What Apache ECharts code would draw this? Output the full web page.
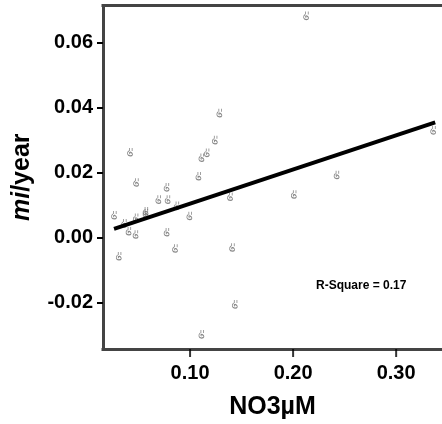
<!DOCTYPE html>
<html>
<head>
<meta charset="utf-8">
<script src="https://cdn.jsdelivr.net/npm/echarts@6/dist/echarts.min.js"></script>
<style>html,body{margin:0;padding:0;background:#fff}#c{width:442px;height:424px}</style>
</head>
<body>
<div id="c"></div>
<script>
// NO3 (µM) values of the observations
const no3Values = [0.0262, 0.0308, 0.0359, 0.0403, 0.0417, 0.0473, 0.0471, 0.0476, 0.0568, 0.0568,
  0.0692, 0.0772, 0.0782, 0.0772, 0.0854, 0.0869, 0.0993, 0.1081, 0.1110, 0.1162,
  0.1240, 0.1284, 0.1110, 0.1388, 0.1408, 0.1434, 0.2007, 0.2126, 0.2422, 0.3359];
// mi/year values of the observations
const rateValues = [0.0070, -0.0056, 0.0045, 0.0021, 0.0264, 0.0062, 0.0011, 0.0171, 0.0082, 0.0076,
  0.0118, 0.0156, 0.0118, 0.0018, -0.0032, 0.0099, 0.0068, 0.0190, 0.0247, 0.0262,
  0.0301, 0.0384, -0.0296, 0.0127, -0.0029, -0.0204, 0.0134, 0.0683, 0.0194, 0.0331];
// fitted regression line end points
const fitX = [0.0262, 0.3379];
const fitY = [0.0027, 0.0355];
// axis ticks
const xTicks = [0.10, 0.20, 0.30];
const yTicks = [-0.02, 0.00, 0.02, 0.04, 0.06];
const rSquareText = 'R-Square = 0.17';

const pts = no3Values.map((x, i) => [x, rateValues[i]]);
const fitPts = fitX.map((x, i) => [x, fitY[i]]);
const FONT = '"Liberation Sans", Arial, sans-serif';
const markerPath = 'path://M2,0 L2,3 M4,0 L4,3 M1.5,3 C0,4.5 0,8 2.5,8 C4.5,8 5,6 3,4.5 C2,4 1.5,5 2.5,6';
const XMIN = 0.0155, XMAX = 0.3445, YMIN = -0.0342, YMAX = 0.0714;
const frameLine = {show: true, onZero: false, lineStyle: {color: '#444', width: 3, cap: 'square'}};

const chart = echarts.init(document.getElementById('c'), null, {renderer: 'canvas'});
chart.setOption({
  animation: false,
  backgroundColor: '#fff',
  grid: {left: 103, top: 5.5, right: 0, bottom: 75, show: false, containLabel: false, outerBoundsMode: 'none'},
  xAxis: [{
    type: 'value', min: XMIN, max: XMAX, position: 'bottom',
    name: 'NO3µM', nameLocation: 'middle', nameGap: 46,
    nameTextStyle: {fontFamily: FONT, fontWeight: 'bold', fontSize: 25, color: '#000'},
    splitLine: {show: false},
    axisLine: frameLine,
    axisTick: {show: false},
    axisLabel: {customValues: xTicks, formatter: v => v.toFixed(2), margin: 14,
      fontFamily: FONT, fontWeight: 'bold', fontSize: 20, color: '#000'}
  }, {
    type: 'value', min: XMIN, max: XMAX, position: 'top',
    splitLine: {show: false}, axisLine: frameLine,
    axisTick: {show: false}, axisLabel: {show: false}
  }],
  yAxis: {
    type: 'value', min: YMIN, max: YMAX, position: 'left',
    name: '{i|mi}{n|/year}', nameLocation: 'middle', nameGap: 68, nameRotate: 90,
    nameTextStyle: {fontFamily: FONT, fontWeight: 'bold', fontSize: 25, color: '#000',
      rich: {i: {fontFamily: FONT, fontWeight: 'bold', fontStyle: 'italic', fontSize: 25, color: '#000'},
             n: {fontFamily: FONT, fontWeight: 'bold', fontSize: 25, color: '#000'}}},
    splitLine: {show: false},
    axisLine: frameLine,
    axisTick: {show: true, inside: false, customValues: yTicks, length: 6, lineStyle: {color: '#000', width: 2}},
    axisLabel: {customValues: yTicks, formatter: v => v.toFixed(2), margin: 10,
      fontFamily: FONT, fontWeight: 'bold', fontSize: 20, color: '#000'}
  },
  series: [
    {type: 'scatter', data: pts, symbol: markerPath, symbolSize: [5, 8],
      itemStyle: {color: 'rgba(0,0,0,0)', borderColor: '#6a6a6a', borderWidth: 1}, z: 2},
    {type: 'line', data: fitPts, showSymbol: false, symbol: 'none',
      lineStyle: {color: '#000', width: 4}, z: 3},
    {type: 'scatter', data: xTicks.map(v => [v, YMIN]), symbol: 'rect', symbolSize: [2, 8],
      symbolOffset: [0, '50%'], clip: false, silent: true, itemStyle: {color: '#000'}, z: 1}
  ],
  graphic: [{type: 'text', left: 316, top: 280,
    style: {text: rSquareText, fontFamily: FONT, fontWeight: 'bold', fontSize: 12, fill: '#000'}}]
});
</script>
</body>
</html>
